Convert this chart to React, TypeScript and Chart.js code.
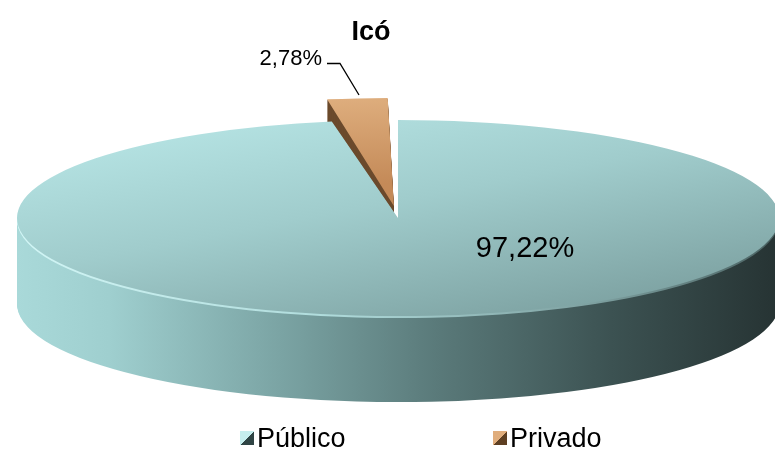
import { useEffect, useRef } from 'react';
import { Chart, registerables } from 'chart.js';

Chart.register(...registerables);

// ---- data ----
const chartTitle = 'Icó';
const categories = ['Público', 'Privado'];
const values = [97.22, 2.78];
const valueLabels = ['97,22%', '2,78%'];

// ---- style ----
const FONT = '"Liberation Sans", Arial, Helvetica, sans-serif';
const CX = 398;
const CY = 218;
const RX = 381;
const RY = 98;
const DEPTH = 86;

const pie3dPlugin = {
  id: 'pie3d',
  beforeDatasetsDraw(chart: any) {
    const ctx: CanvasRenderingContext2D = chart.ctx;
    const arcs = chart.getDatasetMeta(0).data as any[];
    if (!arcs.length) return;
    const a0 = arcs[0];
    const r = a0.outerRadius;
    const ex = a0.x;
    const ey = a0.y;
    const sx = RX / r;
    const sy = RY / r;
    const apply = (d: number) => {
      ctx.translate(CX, CY + d);
      ctx.scale(sx, sy);
      ctx.translate(-ex, -ey);
    };
    const ux = (X: number) => ex + (X - CX) / sx;
    const uy = (Y: number, d: number) => ey + (Y - CY - d) / sy;
    const drawWith = (a: any, fill: any) => {
      const t = Object.create(a);
      t.options = { ...a.options, backgroundColor: fill, borderWidth: 0 };
      t.draw(ctx);
    };

    const sideG = ctx.createLinearGradient(ux(CX - RX), 0, ux(CX + RX), 0);
    sideG.addColorStop(0, '#a9d9d9');
    sideG.addColorStop(0.12, '#9fcfcf');
    sideG.addColorStop(0.35, '#7aa3a3');
    sideG.addColorStop(0.55, '#5a7a7a');
    sideG.addColorStop(0.78, '#3c5252');
    sideG.addColorStop(1, '#263333');
    const privSide = '#6b4a2c';
    const sideFills = [sideG, privSide];

    ctx.save();
    for (let d = DEPTH; d >= 3; d--) {
      ctx.save();
      apply(d);
      for (let i = arcs.length - 1; i >= 0; i--) drawWith(arcs[i], sideFills[i]);
      ctx.restore();
    }
    // bevel rim
    const rimG = ctx.createLinearGradient(ux(CX - RX), 0, ux(CX + RX), 0);
    rimG.addColorStop(0, '#d2f6f6');
    rimG.addColorStop(0.4, '#b0dcdc');
    rimG.addColorStop(0.75, '#7fa2a2');
    rimG.addColorStop(1, '#4a6262');
    for (let d = 2; d >= 1; d--) {
      ctx.save();
      apply(d);
      drawWith(arcs[1], privSide);
      drawWith(arcs[0], rimG);
      ctx.restore();
    }
    ctx.save();
    apply(0);
    const topG = ctx.createLinearGradient(ux(120), uy(130, 0), ux(690), uy(330, 0));
    topG.addColorStop(0, '#b6e4e4');
    topG.addColorStop(0.4, '#a0cccc');
    topG.addColorStop(1, '#759898');
    const privG = ctx.createLinearGradient(ux(327), uy(98, 0), ux(393), uy(195, 0));
    privG.addColorStop(0, '#e2b383');
    privG.addColorStop(1, '#c48a58');
    drawWith(arcs[0], topG);
    drawWith(arcs[1], privG);
    ctx.restore();
    ctx.restore();
    return false;
  },
};

const textPlugin = {
  id: 'texts',
  afterDraw(chart: any) {
    const ctx: CanvasRenderingContext2D = chart.ctx;
    ctx.save();
    ctx.fillStyle = '#000';
    // title
    ctx.font = `bold 27px ${FONT}`;
    ctx.textAlign = 'center';
    ctx.textBaseline = 'alphabetic';
    ctx.fillText(chartTitle, 371, 40);
    // data labels
    ctx.font = `22px ${FONT}`;
    ctx.textAlign = 'right';
    ctx.fillText(valueLabels[1], 322, 65);
    ctx.textAlign = 'center';
    ctx.font = `29px ${FONT}`;
    ctx.fillText(valueLabels[0], 525, 257);
    // leader line
    ctx.strokeStyle = '#000';
    ctx.lineWidth = 1.3;
    ctx.beginPath();
    ctx.moveTo(327, 63.5);
    ctx.lineTo(340, 63.5);
    ctx.lineTo(359, 95);
    ctx.stroke();
    // legend
    const boxX = [240, 493];
    const shades = [
      ['#c6eeee', '#2f4444'],
      ['#e0ad7c', '#5e3f22'],
    ];
    ctx.font = `27px ${FONT}`;
    ctx.textAlign = 'left';
    categories.forEach((c, i) => {
      const x = boxX[i];
      const y = 431;
      const g = ctx.createLinearGradient(x, y, x + 14, y + 14);
      g.addColorStop(0, shades[i][0]);
      g.addColorStop(0.5, shades[i][0]);
      g.addColorStop(0.5, shades[i][1]);
      g.addColorStop(1, shades[i][1]);
      ctx.fillStyle = g;
      ctx.fillRect(x, y, 14, 14);
      ctx.fillStyle = '#000';
      ctx.fillText(c, x + 17, 447);
    });
    ctx.restore();
  },
};

export default function App() {
  const ref = useRef<HTMLCanvasElement>(null);
  useEffect(() => {
    const canvas = ref.current!;
    const chart = new Chart(canvas, {
      type: 'pie',
      data: {
        labels: categories,
        datasets: [
          {
            data: values,
            backgroundColor: ['#9fcfcf', '#d29a68'],
            borderWidth: 0,
            offset: [0, 74],
            radius: 150,
          } as any,
        ],
      },
      options: {
        responsive: false,
        animation: false,
        events: [],
        plugins: { legend: { display: false }, tooltip: { enabled: false } },
      },
      plugins: [pie3dPlugin, textPlugin],
    });
    return () => chart.destroy();
  }, []);
  return (
    <div style={{ position: 'fixed', left: 0, top: 0, width: 775, height: 450, background: '#fff' }}>
      <canvas ref={ref} width={775} height={450} style={{ display: 'block' }} />
    </div>
  );
}
